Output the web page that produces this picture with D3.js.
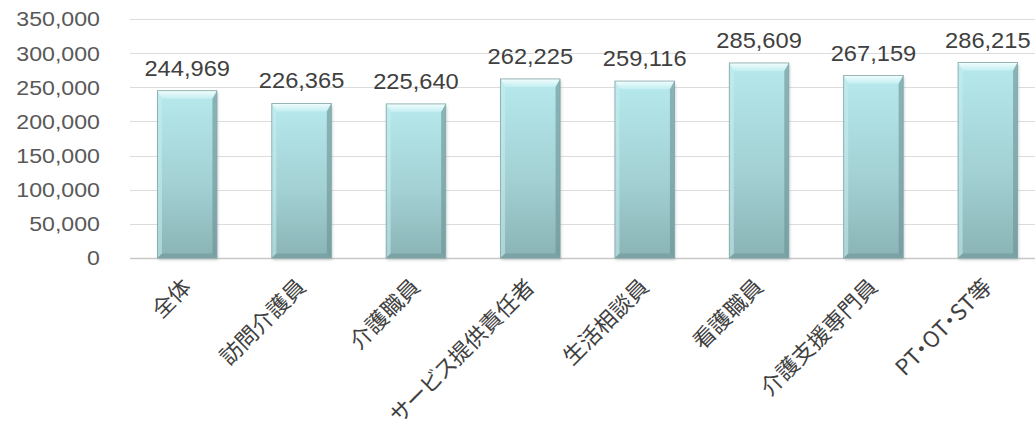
<!DOCTYPE html>
<html>
<head>
<meta charset="utf-8">
<script src="https://cdn.jsdelivr.net/npm/d3@7"></script>
<style>
  body { margin: 0; background: #fff; }
  svg { display: block; }
</style>
</head>
<body>
<div id="chart"></div>
<script>
// Data
const categories = ["全体", "訪問介護員", "介護職員", "サービス提供責任者", "生活相談員", "看護職員", "介護支援専門員", "PT・OT・ST等"];
const values = [244969, 226365, 225640, 262225, 259116, 285609, 267159, 286215];
const yTicks = [0, 50000, 100000, 150000, 200000, 250000, 300000, 350000];

const width = 1035;
const height = 435;
const marginTop = 19;
const marginLeft = 130;
const plotBottom = 258;
const plotRight = 1045;
const stretch = 1.1; // numbers in the original look a bit wide

const x = d3.scaleBand()
  .domain(categories)
  .range([marginLeft, plotRight])
  .paddingInner(0.48)
  .paddingOuter(0.24);

const y = d3.scaleLinear()
  .domain([0, 350000])
  .range([plotBottom, marginTop]);

const svg = d3.select("#chart").append("svg")
  .attr("width", width)
  .attr("height", height);

const defs = svg.append("defs");
const grad = defs.append("linearGradient").attr("id", "barFill")
  .attr("x1", 0).attr("y1", 0).attr("x2", 0).attr("y2", 1);
grad.append("stop").attr("offset", "0%").attr("stop-color", "#b6e9ed");
grad.append("stop").attr("offset", "55%").attr("stop-color", "#a3d1d4");
grad.append("stop").attr("offset", "100%").attr("stop-color", "#8ab4b6");

const topGrad = defs.append("linearGradient").attr("id", "topFill")
  .attr("x1", 0).attr("y1", 0).attr("x2", 0).attr("y2", 1);
topGrad.append("stop").attr("offset", "0%").attr("stop-color", "#f2fdfd");
topGrad.append("stop").attr("offset", "100%").attr("stop-color", "#c2eef1");

const blur = defs.append("filter").attr("id", "shadow")
  .attr("x", "-20%").attr("y", "-20%").attr("width", "140%").attr("height", "140%");
blur.append("feGaussianBlur").attr("stdDeviation", 1.5);

// gridlines
svg.append("g")
  .selectAll("line")
  .data(yTicks)
  .join("line")
  .attr("x1", marginLeft)
  .attr("x2", width)
  .attr("y1", d => Math.round(y(d)) + 0.5)
  .attr("y2", d => Math.round(y(d)) + 0.5)
  .attr("stroke", d => d === 0 ? "#c8c8c8" : "#dcdcdc")
  .attr("stroke-width", d => d === 0 ? 1.5 : 1);

// y tick labels
svg.append("g")
  .selectAll("text")
  .data(yTicks)
  .join("text")
  .attr("transform", d => `translate(100,${y(d)}) scale(1.13,1)`)
  .attr("dy", "0.36em")
  .attr("text-anchor", "end")
  .attr("font-family", "Liberation Sans, Arial, sans-serif")
  .attr("font-size", 20.5)
  .attr("fill", "#595959")
  .text(d => d3.format(",")(d));

// bars with bevel look
const bw = x.bandwidth();
const b = 4.5;
const bars = svg.append("g").selectAll("g")
  .data(categories.map((c, i) => ({ c, v: values[i] })))
  .join("g")
  .attr("transform", d => `translate(${x(d.c)},0)`);

bars.append("rect")
  .attr("x", 1).attr("y", d => y(d.v) + 2)
  .attr("width", bw).attr("height", d => plotBottom - y(d.v))
  .attr("fill", "#9aa8a9").attr("opacity", 0.55)
  .attr("filter", "url(#shadow)");

bars.append("rect")
  .attr("x", 0).attr("y", d => y(d.v))
  .attr("width", bw).attr("height", d => plotBottom - y(d.v))
  .attr("fill", "url(#barFill)");

// top bevel
bars.append("path")
  .attr("d", d => {
    const t = y(d.v);
    return `M0,${t}L${bw},${t}L${bw - b},${t + 1.8 * b}L${b},${t + 1.8 * b}Z`;
  })
  .attr("fill", "url(#topFill)");

// left bevel
bars.append("path")
  .attr("d", d => {
    const t = y(d.v);
    return `M0,${t}L${b},${t + 1.8 * b}L${b},${plotBottom - b}L0,${plotBottom}Z`;
  })
  .attr("fill", "#c8eef0").attr("opacity", 0.55);

// right bevel
bars.append("path")
  .attr("d", d => {
    const t = y(d.v);
    return `M${bw},${t}L${bw - b},${t + 1.8 * b}L${bw - b},${plotBottom - b}L${bw},${plotBottom}Z`;
  })
  .attr("fill", "#6a9193").attr("opacity", 0.6);

// bottom bevel
bars.append("path")
  .attr("d", `M0,${plotBottom}L${b},${plotBottom - b}L${bw - b},${plotBottom - b}L${bw},${plotBottom}Z`)
  .attr("fill", "#6a9193").attr("opacity", 0.5);

bars.append("rect")
  .attr("x", 0).attr("y", d => y(d.v))
  .attr("width", bw).attr("height", d => plotBottom - y(d.v))
  .attr("fill", "none").attr("stroke", "#82a4a6").attr("stroke-width", 0.8);

// value labels
bars.append("text")
  .attr("transform", d => `translate(${bw / 2},${y(d.v) - 15}) scale(${stretch},1)`)
  .attr("text-anchor", "middle")
  .attr("font-family", "Liberation Sans, Arial, sans-serif")
  .attr("font-size", 21.5)
  .attr("fill", "#404040")
  .text(d => d3.format(",")(d.v));

// category labels rotated, proportional kana like the original font
svg.append("g")
  .selectAll("text")
  .data(categories)
  .join("text")
  .attr("transform", d => `translate(${x(d) + bw / 2},${plotBottom + 25}) rotate(-45)`)
  .attr("text-anchor", "end")
  .attr("dy", "0.35em")
  .attr("font-family", "Noto Sans CJK JP, sans-serif")
  .attr("font-size", 22)
  .style("font-feature-settings", "'palt'")
  .attr("fill", "#404040")
  .text(d => d);
</script>
</body>
</html>
